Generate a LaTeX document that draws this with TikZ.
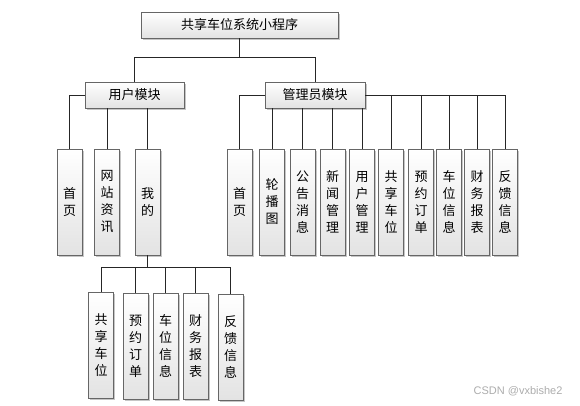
\documentclass[tikz,border=0pt]{standalone}
\usepackage{fontspec}
\setmainfont{Noto Sans CJK SC}
\newfontfamily\markfont{Liberation Sans}
\usepackage{tikz}
\usetikzlibrary{shadows}

\begin{document}
\begin{tikzpicture}[
  x=1pt, y=-1pt,
  font=\fontsize{13}{17}\selectfont,
  box/.style={draw=gray!80!black, line width=0.9pt,
              top color=white, bottom color=gray!22,
              drop shadow={shadow xshift=1.6pt, shadow yshift=-1.6pt,
                           fill=gray!45, opacity=1},
              inner sep=0pt, align=center},
  modbox/.style={box, minimum width=99pt, minimum height=26pt},
  leaf/.style={box, minimum width=25pt, minimum height=106pt},
  link/.style={line width=1pt, black!85}
]
\useasboundingbox (0,0) rectangle (580,405);

%% Top and module boxes
\node[modbox, minimum width=197pt] (root)  at (239.5,25) {共享车位系统小程序};
\node[modbox]                      (user)  at (134.5,95) {用户模块};
\node[modbox, minimum width=100pt] (admin) at (315,95)   {管理员模块};

%% User leaves
\node[leaf] (u1) at (69.5,202)  {首\\页};
\node[leaf] (u2) at (107,202)   {网\\站\\资\\讯};
\node[leaf] (u3) at (147.5,202) {我\\的};

%% Admin leaves
\node[leaf] (a1)  at (239.5,202) {首\\页};
\node[leaf] (a2)  at (272,202)   {轮\\播\\图};
\node[leaf] (a3)  at (302.5,202) {公\\告\\消\\息};
\node[leaf] (a4)  at (332.5,202) {新\\闻\\管\\理};
\node[leaf] (a5)  at (362,202)   {用\\户\\管\\理};
\node[leaf] (a6)  at (391,202)   {共\\享\\车\\位};
\node[leaf] (a7)  at (421,202)   {预\\约\\订\\单};
\node[leaf] (a8)  at (449,202)   {车\\位\\信\\息};
\node[leaf] (a9)  at (477,202)   {财\\务\\报\\表};
\node[leaf] (a10) at (505,202)   {反\\馈\\信\\息};

%% Leaves under "my"
\node[leaf] (m1) at (101,345)   {共\\享\\车\\位};
\node[leaf] (m2) at (135.5,346) {预\\约\\订\\单};
\node[leaf] (m3) at (165.5,346) {车\\位\\信\\息};
\node[leaf] (m4) at (195.5,346) {财\\务\\报\\表};
\node[leaf] (m5) at (230.5,347) {反\\馈\\信\\息};

%% Links: root to modules
\draw[link] (root.south) -- ++(0,19) coordinate (rootj);
\draw[link] (user.north) |- (rootj) -| (admin.north);

%% Links: user module
\draw[link] (user.west) -| (u1.north);
\draw[link] (u2.north) -- (u2.north |- user.south);
\draw[link] (u3.north) -- (u3.north |- user.south);

%% Links: admin module
\draw[link] (admin.west) -| (a1.north);
\foreach \i in {2,...,5}
  \draw[link] (a\i.north) -- (a\i.north |- admin.south);
\draw[link] (admin.east) -| (a10.north);
\foreach \i in {6,...,9}
  \draw[link] (a\i.north) -- (a\i.north |- admin.east);

%% Links: my
\draw[link] (u3.south) -- ++(0,12) coordinate (myj);
\draw[link] (m1.north) |- (myj) -| (m5.north);
\foreach \i in {2,3,4}
  \draw[link] (m\i.north) -- (m\i.north |- myj);

%% Watermark
\node[font=\markfont\fontsize{11}{13}\selectfont, text=gray!65, anchor=east]
  (mark) at (566,391) {CSDN @vxbishe2};
\end{tikzpicture}
\end{document}
